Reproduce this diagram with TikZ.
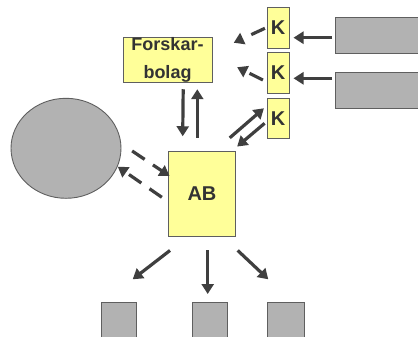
\documentclass[tikz,border=0pt]{standalone}
\usepackage{fontspec}
\setmainfont{Liberation Sans}
\usetikzlibrary{arrows.meta,calc,shapes.geometric}
\definecolor{ylw}{HTML}{FFFF99}
\definecolor{gry}{HTML}{B2B2B2}
\definecolor{edge}{HTML}{5F5F5F}
\definecolor{arrc}{HTML}{3F3F3F}
\definecolor{txt}{HTML}{333333}
\tikzset{
  ybox/.style={draw=edge,line width=0.9pt,fill=ylw,inner sep=0pt,text=txt,font=\bfseries\fontsize{20}{22}\selectfont},
  gbox/.style={draw=edge,line width=0.9pt,fill=gry},
  arr/.style={draw=arrc,line width=3.2pt,-{Triangle[length=10pt,width=12pt]}},
  darr/.style={arr,dash pattern=on 15pt off 10pt},
}
\begin{document}
\begin{tikzpicture}[x=1pt,y=-1pt]
\useasboundingbox (0,0) rectangle (418,337);
\clip (0,0) rectangle (418,337);
\fill[white] (0,0) rectangle (418,337);
% nodes
\node[ybox,minimum width=89pt,minimum height=45pt,align=center,font=\bfseries\fontsize{18}{28}\selectfont] (fb) at (167.5,60) {Forskar-\\bolag};
\node[ybox,minimum width=21.7pt,minimum height=41pt] (K1) at (278.2,27.8) {K};
\node[ybox,minimum width=21.7pt,minimum height=40.6pt] (K2) at (278.2,73) {K};
\node[ybox,minimum width=21.7pt,minimum height=40pt] (K3) at (278.2,118.3) {K};
\node[ybox,minimum width=67.4pt,minimum height=85pt] (AB) at (202,193.5) {AB};
\node[gbox,minimum width=95pt,minimum height=35.6pt,anchor=west] (R1) at (335,35.5) {};
\node[gbox,minimum width=95pt,minimum height=35.6pt,anchor=west] (R2) at (335,90.5) {};
\node[gbox,ellipse,minimum width=110pt,minimum height=100pt,inner sep=0pt] (E) at (66,148.3) {};
\node[gbox,minimum width=35pt,minimum height=45pt,anchor=north] (B1) at (119.2,302.3) {};
\node[gbox,minimum width=35.4pt,minimum height=45pt,anchor=north] (B2) at (210,302.3) {};
\node[gbox,minimum width=36.3pt,minimum height=45pt,anchor=north] (B3) at (285.9,302.3) {};
% connectors
\draw[arr] ($(R1.west)+(-3,2.2)$) -- ($(K1.east)+(4,9.9)$);
\draw[arr] ($(R2.west)+(-3,-12.2)$) -- ($(K2.east)+(4,5.3)$);
\draw[darr] ($(K1.west)+(-2,0.5)$) -- ($(fb.north east)+(21.3,5.7)$);
\draw[darr] ($(K2.west)+(-4,7)$) -- ($(fb.east)+(24.7,7.2)$);
\draw[arr] ($(fb.south)+(15.7,6.3)$) -- ($(AB.north)+(-19.3,-14.3)$);
\draw[arr] ($(AB.north)+(-4.7,-12.7)$) -- ($(fb.south)+(29.8,6.3)$);
\draw[arr] ($(AB.north east)+(-6.4,-12.7)$) -- ($(K3.west)+(-3,-10)$);
\draw[arr] ($(K3.west)+(-2.3,5)$) -- ($(AB.north east)+(1,-4)$);
\draw[darr] ($(E.east)+(10.7,2.7)$) -- ($(AB.west)+(1.7,-17.5)$);
\draw[darr] ($(AB.west)+(-6,3.8)$) -- ($(E.east)+(-3.7,18.4)$);
\draw[arr] ($(AB.south)+(-32,14)$) -- ($(B1.north)+(13.5,-23)$);
\draw[arr] ($(AB.south)+(5.7,14)$) -- ($(B2.north)+(-2.3,-8.3)$);
\draw[arr] ($(AB.south)+(35.7,14)$) -- ($(B3.north)+(-17.6,-23)$);
\end{tikzpicture}
\end{document}
